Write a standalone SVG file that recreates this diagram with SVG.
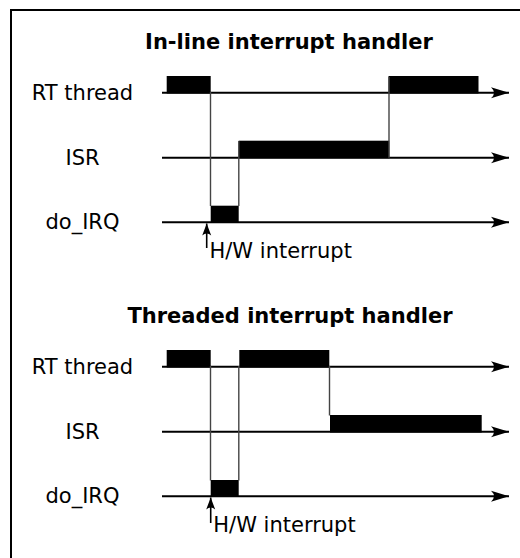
<svg xmlns="http://www.w3.org/2000/svg" width="520" height="558" viewBox="0 0 520 558">
<defs>
<style>
.bg{fill:#fff}
.frame{fill:none;stroke:#000;stroke-width:2}
.title{font-family:"DejaVu Sans",sans-serif;font-weight:bold;font-size:21px;text-anchor:middle;fill:#000}
.lbl{font-family:"DejaVu Sans",sans-serif;font-size:21px;text-anchor:middle;fill:#000}
.hw{font-family:"DejaVu Sans",sans-serif;font-size:21px;fill:#000}
.axis{stroke:#000;stroke-width:2;fill:none;marker-end:url(#ah)}
.blk{fill:#000}
.v{stroke:#444;stroke-width:1.4;fill:none}
.irq{stroke:#000;stroke-width:1.6;fill:none;marker-end:url(#sh)}
</style>
<marker id="ah" markerUnits="userSpaceOnUse" viewBox="-18 -6 19 12" refX="0" refY="0" markerWidth="19" markerHeight="12" orient="auto">
<path d="M0,0 L-18,-5.5 Q-12,0 -18,5.5 Z" fill="#000"/>
</marker>
<marker id="sh" markerUnits="userSpaceOnUse" viewBox="-13 -6 14 12" refX="0" refY="0" markerWidth="14" markerHeight="12" orient="auto">
<path d="M0,0 L-12,-4.5 Q-8,0 -12,4.5 Z" fill="#000"/>
</marker>
</defs>
<rect class="bg" x="0" y="0" width="520" height="558"/>
<path class="frame" d="M11,558 V10 H520"/>

<g id="panel-inline">
<text class="title" x="289" y="49">In-line interrupt handler</text>
<g id="inline-rt"><text class="lbl" x="82.5" y="99.5">RT thread</text></g>
<g id="inline-isr"><text class="lbl" x="82.5" y="164.5">ISR</text></g>
<g id="inline-doirq"><text class="lbl" x="82.5" y="229">do_IRQ</text></g>
<g id="inline-blocks">
<rect class="blk" x="166.7" y="76" width="44" height="17.5"/>
<rect class="blk" x="210.7" y="205.7" width="28" height="17"/>
<rect class="blk" x="238.7" y="140.7" width="150.6" height="17.5"/>
<rect class="blk" x="388.5" y="76" width="90" height="17.5"/>
</g>
<g id="inline-hw">
<text class="hw" x="209.5" y="257.5">H/W interrupt</text>
</g>
</g>

<g id="panel-threaded">
<text class="title" x="290" y="323">Threaded interrupt handler</text>
<g id="thr-rt"><text class="lbl" x="82.5" y="373.5">RT thread</text></g>
<g id="thr-isr"><text class="lbl" x="82.5" y="438.5">ISR</text></g>
<g id="thr-doirq"><text class="lbl" x="82.5" y="503">do_IRQ</text></g>
<g id="thr-blocks">
<rect class="blk" x="166.7" y="350" width="44" height="17.5"/>
<rect class="blk" x="239.3" y="350" width="90" height="17.5"/>
<rect class="blk" x="210.7" y="480" width="28" height="17"/>
<rect class="blk" x="330" y="415" width="151.7" height="17.5"/>
</g>
<g id="thr-hw">
<text class="hw" x="213.3" y="532">H/W interrupt</text>
</g>
</g>

<g id="connectors">
<line class="axis" x1="162" y1="92.7" x2="509" y2="92.7"/>
<line class="axis" x1="162" y1="157.7" x2="509" y2="157.7"/>
<line class="axis" x1="162" y1="222.3" x2="509" y2="222.3"/>
<line class="v" x1="210.5" y1="92" x2="210.5" y2="206"/>
<line class="v" x1="238.8" y1="141" x2="238.8" y2="206"/>
<line class="v" x1="389" y1="77" x2="389" y2="157.7"/>
<line class="irq" x1="206.7" y1="248" x2="206.7" y2="223.5"/>

<line class="axis" x1="162" y1="366.7" x2="509" y2="366.7"/>
<line class="axis" x1="162" y1="431.7" x2="509" y2="431.7"/>
<line class="axis" x1="162" y1="496.3" x2="509" y2="496.3"/>
<line class="v" x1="210.5" y1="366" x2="210.5" y2="480.5"/>
<line class="v" x1="238.8" y1="366" x2="238.8" y2="480.5"/>
<line class="v" x1="329.5" y1="366" x2="329.5" y2="415.5"/>
<line class="irq" x1="210.7" y1="523" x2="210.7" y2="497.5"/>
</g>
</svg>
